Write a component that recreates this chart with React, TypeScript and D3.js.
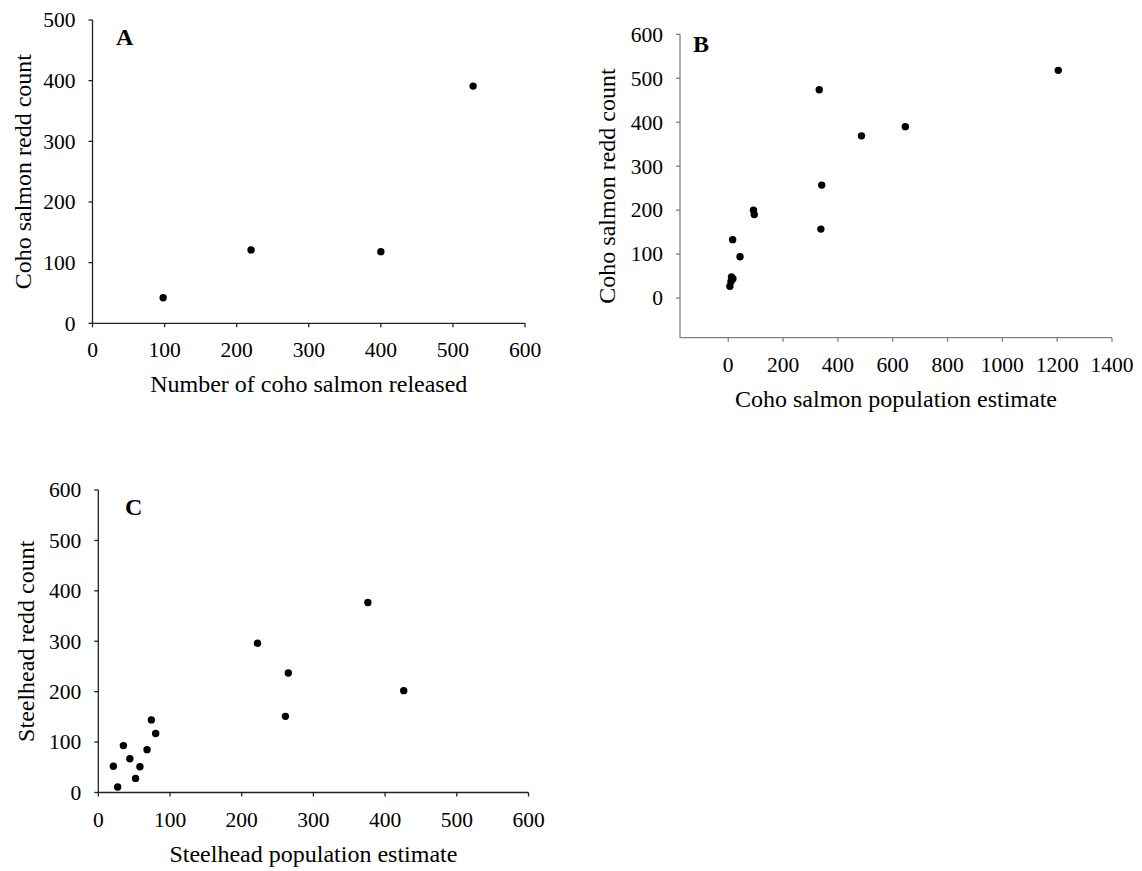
import React from "react";
import * as d3 from "d3";

// ---- Data ----
const aReleased = [98, 220, 400, 528];
const aRedds = [42, 121, 118, 391];

const bPopEstimate = [1204, 332, 486, 646, 341, 338, 92, 95, 16, 43, 12, 17, 10, 6];
const bRedds = [518, 474, 369, 390, 257, 157, 200, 190, 133, 94, 48, 44, 38, 27];

const cPopEstimate = [376, 222, 265, 426, 261, 74, 80, 35, 68, 44, 21, 58, 52, 27];
const cRedds = [377, 296, 237, 202, 151, 144, 117, 93, 85, 67, 52, 51, 28, 11];

const aXTicks = [0, 100, 200, 300, 400, 500, 600];
const aYTicks = [0, 100, 200, 300, 400, 500];
const bXTicks = [0, 200, 400, 600, 800, 1000, 1200, 1400];
const bYTicks = [0, 100, 200, 300, 400, 500, 600];
const cXTicks = [0, 100, 200, 300, 400, 500, 600];
const cYTicks = [0, 100, 200, 300, 400, 500, 600];

const FONT = "'Liberation Serif', 'Times New Roman', Times, serif";

type PanelProps = {
  letter: string;
  letterPos: [number, number];
  xs: number[];
  ys: number[];
  xDomain: [number, number];
  yDomain: [number, number];
  xRange: [number, number];
  yRange: [number, number];
  xTicks: number[];
  yTicks: number[];
  xTitle: string;
  yTitle: string;
  yTitleX: number;
  axisColor: string;
};

function Panel(p: PanelProps) {
  const x = d3.scaleLinear().domain(p.xDomain).range(p.xRange);
  const y = d3.scaleLinear().domain(p.yDomain).range(p.yRange);
  const x0 = p.xRange[0];
  const yBottom = p.yRange[0];
  const yTop = p.yRange[1];
  const tick = 4;
  const xMid = (p.xRange[0] + p.xRange[1]) / 2;
  const yMid = (p.yRange[0] + p.yRange[1]) / 2;
  return (
    <g>
      {/* axes */}
      <line x1={x0} x2={x0} y1={yTop} y2={yBottom} stroke={p.axisColor} strokeWidth={1.3} />
      <line x1={x0} x2={p.xRange[1]} y1={yBottom} y2={yBottom} stroke={p.axisColor} strokeWidth={1.3} />
      {p.yTicks.map((t) => (
        <g key={"y" + t}>
          <line x1={x0 - tick} x2={x0} y1={y(t)} y2={y(t)} stroke={p.axisColor} strokeWidth={1.3} />
          <text x={x0 - 17} y={y(t)} dy="0.34em" textAnchor="end" fontSize={21.5} fontFamily={FONT} fill="#000">
            {t}
          </text>
        </g>
      ))}
      {p.xTicks.map((t) => (
        <g key={"x" + t}>
          <line x1={x(t)} x2={x(t)} y1={yBottom} y2={yBottom + tick} stroke={p.axisColor} strokeWidth={1.3} />
          <text x={x(t)} y={yBottom + 34} textAnchor="middle" fontSize={21.5} fontFamily={FONT} fill="#000">
            {t}
          </text>
        </g>
      ))}
      {/* titles */}
      <text x={xMid} y={yBottom + 69} textAnchor="middle" fontSize={24} fontFamily={FONT} fill="#000">
        {p.xTitle}
      </text>
      <text
        transform={`translate(${p.yTitleX},${yMid}) rotate(-90)`}
        textAnchor="middle"
        fontSize={24}
        fontFamily={FONT}
        fill="#000"
      >
        {p.yTitle}
      </text>
      <text x={p.letterPos[0]} y={p.letterPos[1]} fontSize={24} fontWeight="bold" fontFamily={FONT} fill="#000">
        {p.letter}
      </text>
      {/* points */}
      {p.xs.map((v, i) => (
        <circle key={i} cx={x(v)} cy={y(p.ys[i])} r={3.7} fill="#000" />
      ))}
    </g>
  );
}

export default function App() {
  return (
    <svg
      width={1142}
      height={871}
      style={{ position: "absolute", left: 0, top: 0, background: "#fff" }}
    >
      <rect width={1142} height={871} fill="#fff" />
      <Panel
        letter="A"
        letterPos={[116, 44.5]}
        xs={aReleased}
        ys={aRedds}
        xDomain={[0, 600]}
        yDomain={[0, 500]}
        xRange={[92.5, 525]}
        yRange={[323.3, 20]}
        xTicks={aXTicks}
        yTicks={aYTicks}
        xTitle="Number of coho salmon released"
        yTitle="Coho salmon redd count"
        yTitleX={31}
        axisColor="#222"
      />
      <Panel
        letter="B"
        letterPos={[693, 52]}
        xs={bPopEstimate}
        ys={bRedds}
        xDomain={[-176, 1400]}
        yDomain={[-90, 600]}
        xRange={[680, 1112]}
        yRange={[337.7, 34.3]}
        xTicks={bXTicks}
        yTicks={bYTicks}
        xTitle="Coho salmon population estimate"
        yTitle="Coho salmon redd count"
        yTitleX={615}
        axisColor="#808080"
      />
      <Panel
        letter="C"
        letterPos={[125, 515]}
        xs={cPopEstimate}
        ys={cRedds}
        xDomain={[0, 600]}
        yDomain={[0, 600]}
        xRange={[98.3, 528.5]}
        yRange={[792.5, 490]}
        xTicks={cXTicks}
        yTicks={cYTicks}
        xTitle="Steelhead population estimate"
        yTitle="Steelhead redd count"
        yTitleX={34}
        axisColor="#222"
      />
    </svg>
  );
}
